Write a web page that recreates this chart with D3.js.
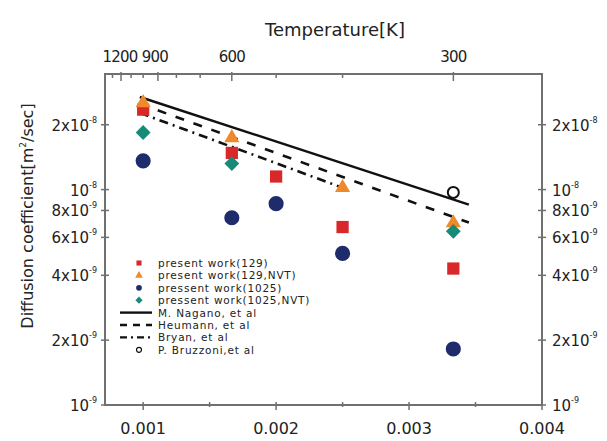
<!DOCTYPE html>
<html>
<head>
<meta charset="utf-8">
<script src="https://cdn.jsdelivr.net/npm/d3@7"></script>
<style>
  body { margin: 0; background: #fff; }
  svg text { font-family: "DejaVu Sans", sans-serif; fill: #222; }
</style>
</head>
<body>
<svg id="chart" width="607" height="441"></svg>
<script>
// data (x = 1/T, y = D in m^2/sec)
const pw129 = [[0.001, 2.35e-8], [0.001667, 1.48e-8], [0.002, 1.15e-8], [0.0025, 6.7e-9], [0.003333, 4.3e-9]];
const pw129nvt = [[0.001, 2.53e-8], [0.001667, 1.74e-8], [0.0025, 1.02e-8], [0.003333, 7.0e-9]];
const pw1025 = [[0.001, 1.36e-8], [0.001667, 7.4e-9], [0.002, 8.6e-9], [0.0025, 5.06e-9], [0.003333, 1.82e-9]];
const pw1025nvt = [[0.001, 1.84e-8], [0.001667, 1.32e-8], [0.003333, 6.4e-9]];
const bruzzoni = [[0.003333, 9.7e-9]];
const nagano = [[0.000975, 2.69e-8], [0.00345, 8.52e-9]];
const heumann = [[0.000975, 2.50e-8], [0.00345, 7.03e-9]];
const bryan = [[0.000975, 2.27e-8], [0.0025, 1.02e-8]];

const xTicks = [0.001, 0.002, 0.003, 0.004];
const xMinor = [0.0015, 0.0025, 0.0035];
const tempMajor = [1200, 900, 600, 300];
const tempMinor = [1300, 1100, 1000, 800, 700, 500, 400];
const yTicks = [
  { v: 2e-8, m: '2x10', e: '-8' },
  { v: 1e-8, m: '10', e: '-8' },
  { v: 8e-9, m: '8x10', e: '-9' },
  { v: 6e-9, m: '6x10', e: '-9' },
  { v: 4e-9, m: '4x10', e: '-9' },
  { v: 2e-9, m: '2x10', e: '-9' },
  { v: 1e-9, m: '10', e: '-9' }
];

const COLORS = {
  sq: '#d8282a',
  tri: '#ef8a2c',
  circ: '#1f2c6c',
  dia: '#178a78',
  axis: '#707070'
};

const svg = d3.select('#chart');
const L = 105, R = 542, T = 74, B = 405;

const x = d3.scaleLinear().domain([0.000713, 0.004]).range([L, R]);
const y = d3.scaleLog().domain([1e-9, 3.44e-8]).range([B, T]);

// lines
const line = d3.line().x(d => x(d[0])).y(d => y(d[1]));
svg.append('path').datum(nagano).attr('d', line)
  .attr('fill', 'none').attr('stroke', '#111').attr('stroke-width', 2.4);
svg.append('path').datum(heumann).attr('d', line)
  .attr('fill', 'none').attr('stroke', '#111').attr('stroke-width', 2.6)
  .attr('stroke-dasharray', '9,10');
svg.append('path').datum(bryan).attr('d', line)
  .attr('fill', 'none').attr('stroke', '#111').attr('stroke-width', 2.6)
  .attr('stroke-dasharray', '9,5,2,5');

// markers
function marks(data, type, size, color, rot) {
  svg.append('g').selectAll('path')
    .data(data)
    .enter()
    .append('path')
    .attr('transform', d => `translate(${x(d[0])},${y(d[1])}) rotate(${rot || 0})`)
    .attr('d', d3.symbol().type(type).size(size))
    .attr('fill', color);
}
marks(pw129, d3.symbolSquare, 150, COLORS.sq);
marks(pw129nvt, d3.symbolTriangle, 100, COLORS.tri);
marks(pw1025, d3.symbolCircle, 180, COLORS.circ);
marks(pw1025nvt, d3.symbolSquare, 110, COLORS.dia, 45);

svg.append('g').selectAll('circle')
  .data(bruzzoni)
  .enter()
  .append('circle')
  .attr('cx', d => x(d[0]))
  .attr('cy', d => y(d[1]))
  .attr('r', 5.5)
  .attr('fill', '#fff')
  .attr('stroke', '#111')
  .attr('stroke-width', 2);

// frame
svg.append('rect')
  .attr('x', L).attr('y', T)
  .attr('width', R - L).attr('height', B - T)
  .attr('fill', 'none').attr('stroke', COLORS.axis).attr('stroke-width', 2);

// bottom axis
const gb = svg.append('g');
gb.selectAll('line.maj').data(xTicks).enter().append('line')
  .attr('x1', d => x(d)).attr('x2', d => x(d))
  .attr('y1', B - 3).attr('y2', B + 5)
  .attr('stroke', COLORS.axis).attr('stroke-width', 1.5);
gb.selectAll('line.min').data(xMinor).enter().append('line')
  .attr('x1', d => x(d)).attr('x2', d => x(d))
  .attr('y1', B - 3).attr('y2', B + 2)
  .attr('stroke', COLORS.axis).attr('stroke-width', 1.5);
gb.selectAll('text').data(xTicks).enter().append('text')
  .attr('x', d => x(d)).attr('y', 434)
  .attr('text-anchor', 'middle')
  .attr('font-size', 16)
  .text(d => d3.format('.3f')(d));

// top axis (temperature)
const gt = svg.append('g');
gt.selectAll('line.maj').data(tempMajor).enter().append('line')
  .attr('x1', d => x(1 / d)).attr('x2', d => x(1 / d))
  .attr('y1', T - 2).attr('y2', T + 7)
  .attr('stroke', COLORS.axis).attr('stroke-width', 1.5);
gt.selectAll('line.min').data(tempMinor).enter().append('line')
  .attr('x1', d => x(1 / d)).attr('x2', d => x(1 / d))
  .attr('y1', T - 1).attr('y2', T + 4)
  .attr('stroke', COLORS.axis).attr('stroke-width', 1.5);
gt.selectAll('text').data(tempMajor).enter().append('text')
  .attr('x', d => x(1 / d) + (d === 1200 ? -1 : d === 900 ? -3 : 0))
  .attr('y', 62)
  .attr('text-anchor', 'middle')
  .attr('font-size', 15)
  .attr('letter-spacing', -0.8)
  .text(d => d);
svg.append('text')
  .attr('x', 335).attr('y', 36)
  .attr('text-anchor', 'middle')
  .attr('font-size', 18)
  .text('Temperature[K]');

// y axes
function yAxis(xPos, side) {
  const g = svg.append('g');
  g.selectAll('line').data(yTicks).enter().append('line')
    .attr('x1', xPos - 4).attr('x2', xPos + 4)
    .attr('y1', d => y(d.v)).attr('y2', d => y(d.v))
    .attr('stroke', COLORS.axis).attr('stroke-width', 1.5);
  const t = g.selectAll('text').data(yTicks).enter().append('text')
    .attr('x', side === 'left' ? xPos - 8 : xPos + 10)
    .attr('y', d => y(d.v) + 6)
    .attr('text-anchor', side === 'left' ? 'end' : 'start')
    .attr('font-size', 15);
  t.append('tspan').text(d => d.m);
  t.append('tspan')
    .attr('dy', -8)
    .attr('font-size', 8)
    .text(d => d.e);
}
yAxis(L, 'left');
yAxis(R, 'right');

svg.append('text')
  .attr('transform', 'translate(33,216) rotate(-90)')
  .attr('text-anchor', 'middle')
  .attr('font-size', 16)
  .text('Diffusion coefficient[m')
  .call(t => {
    t.append('tspan').attr('dy', -7).attr('font-size', 9).text('2');
    t.append('tspan').attr('dy', 7).text('/sec]');
  });

// legend
const legendItems = [
  { label: 'present work(129)', kind: 'sym', type: d3.symbolSquare, color: COLORS.sq, rot: 0 },
  { label: 'present work(129,NVT)', kind: 'sym', type: d3.symbolTriangle, color: COLORS.tri, rot: 0 },
  { label: 'pressent work(1025)', kind: 'sym', type: d3.symbolCircle, color: COLORS.circ, rot: 0 },
  { label: 'pressent work(1025,NVT)', kind: 'sym', type: d3.symbolSquare, color: COLORS.dia, rot: 45 },
  { label: 'M. Nagano, et al', kind: 'line', dash: null },
  { label: 'Heumann, et al', kind: 'line', dash: '7,6' },
  { label: 'Bryan, et al', kind: 'line', dash: '7,4,2,4' },
  { label: 'P. Bruzzoni,et al', kind: 'open' }
];
const lg = svg.append('g')
  .selectAll('g')
  .data(legendItems)
  .enter()
  .append('g')
  .attr('transform', (d, i) => `translate(0,${263 + i * 12.4})`);
lg.filter(d => d.kind === 'sym').append('path')
  .attr('transform', d => `translate(139,0) rotate(${d.rot})`)
  .attr('d', d => d3.symbol().type(d.type).size(26)())
  .attr('fill', d => d.color);
lg.filter(d => d.kind === 'line').append('line')
  .attr('x1', 120).attr('x2', 152)
  .attr('stroke', '#111').attr('stroke-width', 2.4)
  .attr('stroke-dasharray', d => d.dash);
lg.filter(d => d.kind === 'open').append('circle')
  .attr('cx', 139).attr('r', 2.5)
  .attr('fill', '#fff').attr('stroke', '#111').attr('stroke-width', 1.2);
lg.append('text')
  .attr('x', 158).attr('y', 4)
  .attr('font-size', 10.5)
  .attr('letter-spacing', 0.8)
  .text(d => d.label);
</script>
</body>
</html>
